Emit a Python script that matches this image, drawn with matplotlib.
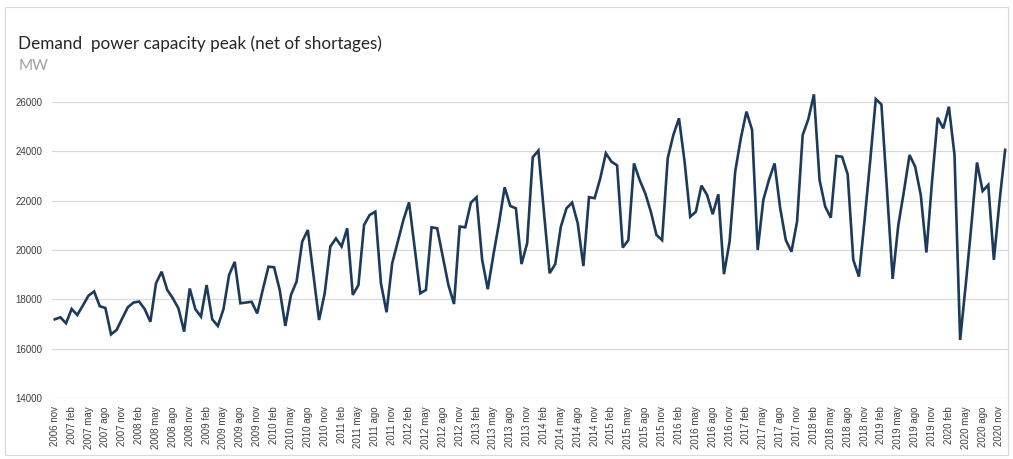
import matplotlib
matplotlib.use("Agg")
import matplotlib.pyplot as plt
from matplotlib.patches import Rectangle

# monthly peak demand, MW, from 2006 nov to 2020 dec
peak_mw = [
    17190, 17270, 17030, 17610, 17365, 17750, 18150, 18320, 17720, 17650,
    16580, 16760, 17230, 17680, 17870, 17910, 17600, 17090, 18650, 19120,
    18380, 18040, 17630, 16690, 18440, 17600, 17300, 18580, 17190, 16920,
    17600, 18990, 19520, 17840, 17870, 17900, 17430, 18400, 19325, 19300,
    18380, 16920, 18180, 18720, 20340, 20810, 19000, 17160, 18245, 20140,
    20470, 20140, 20880, 18180, 18580, 21015, 21420, 21555, 18650, 17475,
    19460, 20340, 21220, 21930, 20100, 18245, 18380, 20920, 20880, 19730,
    18580, 17810, 20950, 20920, 21920, 22140, 19600, 18410, 19800, 21100,
    22540, 21785, 21690, 19430, 20270, 23760, 24030, 21500, 19060, 19430,
    20950, 21690, 21920, 21080, 19350, 22140, 22100, 22900, 23920, 23580,
    23430, 20100, 20400, 23510, 22840, 22300, 21550, 20610, 20400, 23720,
    24660, 25340, 23580, 21350, 21550, 22610, 22230, 21450, 22260, 19020,
    20340, 23180, 24530, 25610, 24870, 20000, 22030, 22840, 23510, 21690,
    20400, 19930, 21150, 24660, 25300, 26310, 22840, 21760, 21310, 23810,
    23780, 23070, 19600, 18920, 21200, 23600, 26120, 25900, 22400, 18830,
    21000, 22370, 23850, 23380, 22230, 19900, 22770, 25360, 24930, 25810,
    23850, 16350, 18600, 21000, 23550, 22390, 22640, 19600, 21960, 24060,
]

month_names = ["ene", "feb", "mar", "abr", "may", "jun",
               "jul", "ago", "sep", "oct", "nov", "dic"]
start_year, start_month = 2006, 10  # index into month_names -> nov
y_ticks = [14000, 16000, 18000, 20000, 22000, 24000, 26000]

labels = []
for i in range(len(peak_mw)):
    m = start_month + i
    labels.append(f"{start_year + m // 12} {month_names[m % 12]}")
tick_pos = list(range(0, len(peak_mw), 3))
tick_lab = [labels[i] for i in tick_pos]

fig = plt.figure(figsize=(10.13, 4.59), dpi=100)
fig.patch.set_facecolor("white")
ax = fig.add_axes([0.0513, 0.1329, 0.9437, 0.6449])

# chart frame
fig.patches.append(Rectangle((0.005, 0.008), 0.99, 0.977, transform=fig.transFigure,
                             fill=False, edgecolor="#D9D9D9", linewidth=0.8))

ax.plot(range(len(peak_mw)), peak_mw, color="#1B3A5C", linewidth=1.9,
        solid_joinstyle="miter", clip_on=False, zorder=3)

ax.set_xlim(-0.5, len(peak_mw) - 0.5)
ax.set_ylim(14000, 26000)
ax.set_yticks(y_ticks)
ax.set_yticklabels([str(v) for v in y_ticks], fontsize=7, color="#404040",
                   family="Liberation Sans")
ax.set_xticks(tick_pos)
ax.set_xticklabels(tick_lab, rotation=90, fontsize=7, color="#404040",
                   family="Liberation Sans")
ax.tick_params(axis="both", length=0, pad=6)
ax.tick_params(axis="y", pad=7)
ax.grid(axis="y", color="#D9D9D9", linewidth=0.9)
ax.set_axisbelow(True)
for s in ax.spines.values():
    s.set_visible(False)

fig.text(0.018, 0.905, "Demand  power capacity peak (net of shortages)",
         fontsize=12.3, color="#262626", family="Lato", va="center", ha="left")
fig.text(0.018, 0.856, "MW", fontsize=11, color="#A0A0A0", family="Lato",
         va="center", ha="left")

fig.savefig("out.png", dpi=100)
